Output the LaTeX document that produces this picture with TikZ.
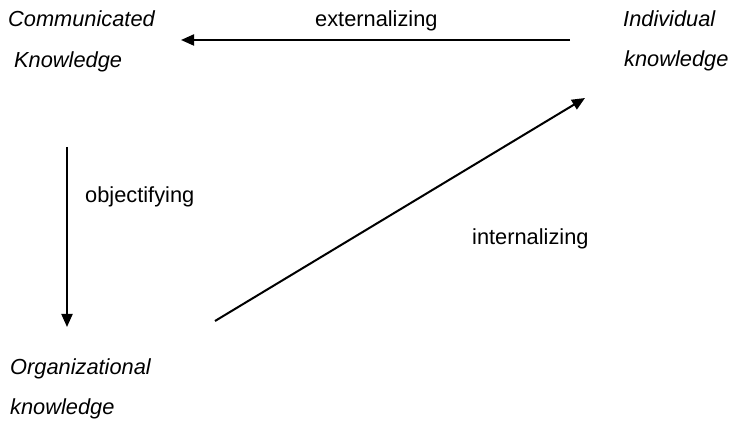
\documentclass[tikz,border=0pt]{standalone}
\usepackage{fontspec}
\setmainfont{Liberation Sans}
\usetikzlibrary{arrows.meta,calc}

\begin{document}
\begin{tikzpicture}[x=1pt,y=-1pt,
  kn/.style={anchor=base west, inner sep=0pt, font=\fontsize{21.8}{25}\selectfont\itshape},
  lbl/.style={anchor=base west, inner sep=0pt, font=\fontsize{21.8}{25}\selectfont},
  flow/.style={line width=2pt, -{Triangle[length=13pt,width=11pt]}}]
  \useasboundingbox (0,0) rectangle (732,427);
  % the three kinds of knowledge
  \node[kn] (comm)  at (8,27)   {Communicated};
  \node[kn] (comm2) at (14,68)  {Knowledge};
  \node[kn] (indiv) at (623,27) {Individual};
  \node[kn] (indiv2) at (624,67) {knowledge};
  \node[kn] (org)   at (10,375) {Organizational};
  \node[kn] (org2)  at (10,415) {knowledge};
  % process labels
  \node[lbl] (ext) at (315,27)  {externalizing};
  \node[lbl] (obj) at (85,203)  {objectifying};
  \node[lbl] (int) at (472,245) {internalizing};
  % arrow ends
  \coordinate (extA) at (570,40);
  \coordinate (extB) at (181,40);
  \coordinate (objA) at (67,147);
  \coordinate (objB) at (67,327);
  \coordinate (intA) at (215,321);
  \coordinate (intB) at (585,98);
  \draw[flow] (extA) -- (extB);
  \draw[flow] (objA) -- (objB);
  \draw[flow] (intA) -- (intB);
\end{tikzpicture}
\end{document}
